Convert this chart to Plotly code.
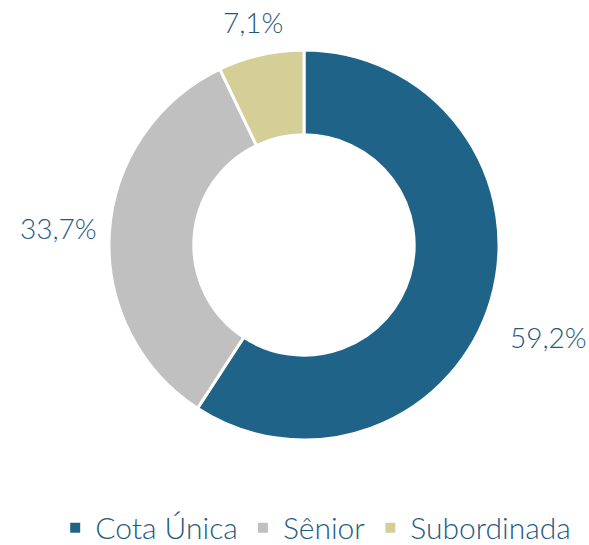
import plotly.graph_objects as go

categories = ["Cota Única", "Sênior", "Subordinada"]
values = [59.2, 33.7, 7.1]
label_texts = ["59,2%", "33,7%", "7,1%"]
colors = ["#1f6488", "#c0c0c0", "#d4cf97"]
text_color = "#1f5a80"

W, H = 589, 545
cx, cy, R = 304, 245, 195

fig = go.Figure(go.Pie(
    labels=categories,
    values=values,
    hole=0.565,
    sort=False,
    direction="clockwise",
    rotation=0,
    textinfo="none",
    hoverinfo="label+percent",
    marker=dict(colors=colors, line=dict(color="white", width=3)),
    domain=dict(x=[(cx - R) / W, (cx + R) / W], y=[(H - cy - R) / H, (H - cy + R) / H]),
))

label_pos = [(548, 337), (58, 228), (253, 22)]
for t, (x, y) in zip(label_texts, label_pos):
    fig.add_annotation(x=x / W, y=1 - y / H, xref="paper", yref="paper",
                       text=t, showarrow=False, xanchor="center", yanchor="middle",
                       font=dict(size=28, color=text_color, family="Lato", weight=300))

fig.update_layout(
    width=W, height=H,
    margin=dict(l=0, r=0, t=0, b=0, autoexpand=False),
    paper_bgcolor="white",
    font=dict(family="Lato", color=text_color),
    legend=dict(orientation="h", x=0.536, xanchor="center", y=-0.016, yanchor="bottom",
                font=dict(size=30, color=text_color, weight=300), itemsizing="constant",
                traceorder="normal"),
    showlegend=True,
)

fig.write_html("out.html", config={"displayModeBar": False},
               post_script="document.body.style.margin='0';")
